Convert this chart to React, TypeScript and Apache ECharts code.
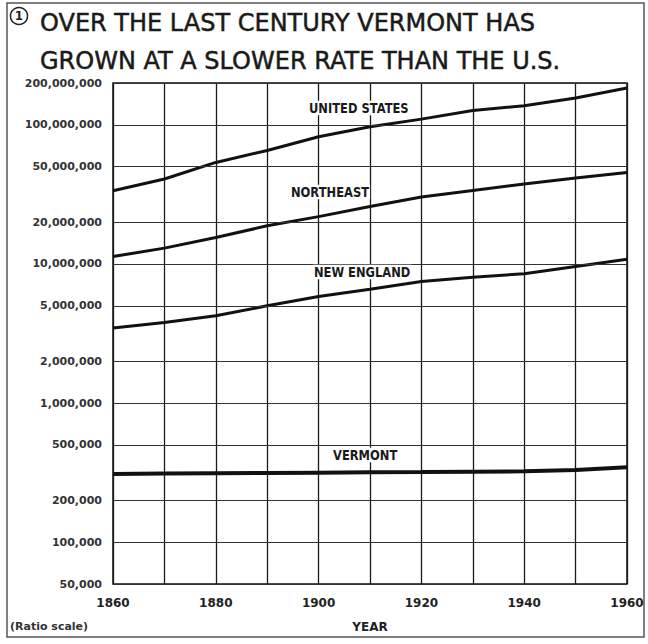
import React, { useEffect, useRef } from "react";
import * as echarts from "echarts";

const years = [1860, 1870, 1880, 1890, 1900, 1910, 1920, 1930, 1940, 1950, 1960];
const unitedStates = [33.6e6, 40.8e6, 53.7e6, 65.5e6, 82.2e6, 97e6, 110e6, 127e6, 137e6, 156e6, 184e6];
const northeast = [11.3e6, 13.0e6, 15.5e6, 18.8e6, 21.9e6, 25.9e6, 30.3e6, 33.8e6, 37.6e6, 41.5e6, 45.5e6];
const newEngland = [3.46e6, 3.79e6, 4.24e6, 5.0e6, 5.83e6, 6.59e6, 7.48e6, 8.04e6, 8.5e6, 9.59e6, 10.8e6];
const vermont = [309e3, 311e3, 313e3, 314e3, 316e3, 318e3, 319e3, 321e3, 323e3, 330e3, 345e3];
const yTicks = [50000, 100000, 200000, 500000, 1000000, 2000000, 5000000, 10000000, 20000000, 50000000, 100000000, 200000000];
const xLabelYears = [1860, 1880, 1900, 1920, 1940, 1960];
const titleLines = ["OVER THE LAST CENTURY VERMONT HAS", "GROWN AT A SLOWER RATE THAN THE U.S."];

const FONT = '"DejaVu Sans", sans-serif';
const withCommas = (v: number) => String(Math.round(v)).replace(/\B(?=(\d{3})+(?!\d))/g, ",");

export default function App() {
  const ref = useRef<HTMLDivElement>(null);
  useEffect(() => {
    const chart = echarts.init(ref.current!, null, { renderer: "svg" });
    const lineSeries = (name: string, values: number[], width: number) => ({
      name,
      type: "line",
      data: years.map((y, i) => [y, values[i]]),
      symbol: "none",
      silent: true,
      z: 4,
      lineStyle: { color: "#111", width },
    });
    const lineLabel = (text: string, x: number, y: number) => ({
      type: "text",
      x,
      y,
      z: 10,
      scaleY: 1.2,
      style: {
        text,
        font: `bold 11.5px ${FONT}`,
        fill: "#1a1a1a",
        verticalAlign: "middle",
        backgroundColor: "#fff",
        padding: [0, 1],
      },
    });
    chart.setOption({
      animation: false,
      backgroundColor: "#fff",
      grid: { left: 113, right: 21, top: 83, bottom: 60, show: true, borderColor: "#111", borderWidth: 1.5 },
      xAxis: {
        type: "value",
        min: 1860,
        max: 1960,
        interval: 10,
        axisLine: { show: false },
        axisTick: { show: false },
        splitLine: { show: true, lineStyle: { color: "#1a1a1a", width: 1.3 } },
        axisLabel: {
          formatter: (v: number) => (xLabelYears.includes(v) ? String(v) : ""),
          fontFamily: FONT,
          fontWeight: "bold",
          fontSize: 12,
          color: "#222",
          margin: 13,
        },
        name: "YEAR",
        nameLocation: "middle",
        nameGap: 37,
        nameTextStyle: { fontFamily: FONT, fontWeight: "bold", fontSize: 12, color: "#222" },
      },
      yAxis: {
        type: "log",
        logBase: 10,
        min: 50000,
        max: 200000000,
        axisLine: { show: false },
        axisTick: { show: false },
        axisLabel: { show: false },
        splitLine: { show: false },
        minorSplitLine: { show: false },
      },
      series: [
        {
          name: "grid",
          type: "line",
          data: [],
          z: 1,
          silent: true,
          markLine: {
            silent: true,
            symbol: ["none", "none"],
            lineStyle: { color: "#333", width: 1, type: "solid" },
            label: {
              position: "start",
              distance: 11,
              formatter: (p: any) => withCommas(Number(p.value)),
              fontFamily: FONT,
              fontWeight: "bold",
              fontSize: 11,
              color: "#333",
            },
            data: yTicks.map((v) => ({ yAxis: v })),
          },
        },
        lineSeries("United States", unitedStates, 3),
        lineSeries("Northeast", northeast, 3),
        lineSeries("New England", newEngland, 3),
        lineSeries("Vermont", vermont, 4),
      ],
      graphic: [
        {
          type: "rect",
          z: -1,
          shape: { x: 7, y: 3, width: 637, height: 634 },
          style: { fill: "none", stroke: "#555", lineWidth: 1.5 },
        },
        {
          type: "circle",
          shape: { cx: 19, cy: 16, r: 8.5 },
          style: { fill: "#fff", stroke: "#222", lineWidth: 1.5 },
        },
        {
          type: "text",
          x: 19,
          y: 16,
          style: { text: "1", font: `bold 12px ${FONT}`, fill: "#222", align: "center", verticalAlign: "middle" },
        },
        {
          type: "text",
          x: 40,
          y: 23,
          style: { text: titleLines[0], font: `24px ${FONT}`, fill: "#1a1a1a", stroke: "#1a1a1a", lineWidth: 0.5, verticalAlign: "middle" },
        },
        {
          type: "text",
          x: 40,
          y: 61,
          style: { text: titleLines[1], font: `24px ${FONT}`, fill: "#1a1a1a", stroke: "#1a1a1a", lineWidth: 0.5, verticalAlign: "middle" },
        },
        lineLabel("UNITED STATES", 308, 108),
        lineLabel("NORTHEAST", 290, 192),
        lineLabel("NEW ENGLAND", 313, 272),
        lineLabel("VERMONT", 332, 455),
        {
          type: "text",
          x: 10,
          y: 626,
          style: { text: "(Ratio scale)", font: `bold 11px ${FONT}`, fill: "#333", verticalAlign: "middle" },
        },
      ],
    });
    return () => chart.dispose();
  }, []);
  return <div ref={ref} style={{ position: "absolute", left: 0, top: 0, width: 648, height: 644 }} />;
}
